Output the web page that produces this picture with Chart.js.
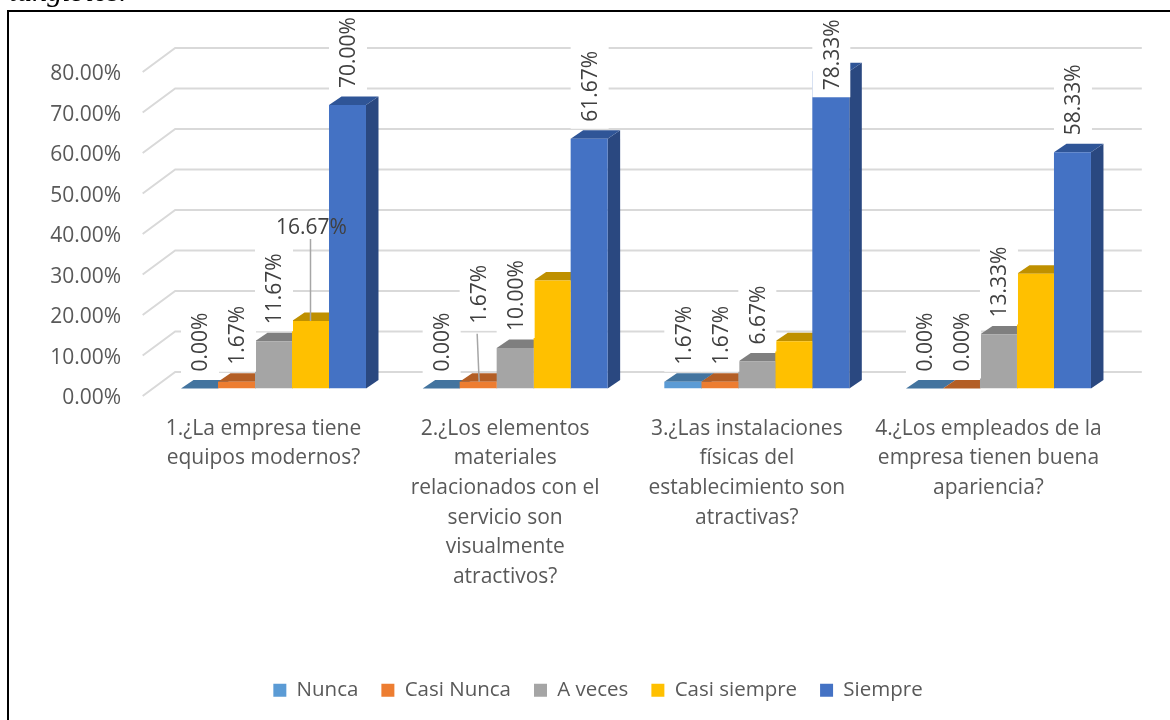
<!DOCTYPE html>
<html lang="es">
<head>
<meta charset="utf-8">
<title>Tangibles</title>
<script src="https://cdn.jsdelivr.net/npm/chart.js@4/dist/chart.umd.min.js"></script>
<style>
    html, body { margin: 0; padding: 0; background: #fff; overflow: hidden; }
    #page { position: relative; width: 1170px; height: 720px; overflow: hidden; }
    #frame { position: absolute; left: 7px; top: 10px; width: 1170px; height: 720px; border-left: 2px solid #000; border-top: 2px solid #000; }
    #caption { position: absolute; left: 9px; top: -26px; font: italic 30px "Liberation Serif", serif; color: #000; white-space: nowrap; }
    canvas { position: absolute; left: 0; top: 0; }
</style>
</head>
<body>
<div id="page">
    <canvas id="tangiblesChart" width="1170" height="720"></canvas>
    <div id="frame"></div>
    <div id="caption">tangibles.</div>
</div>
<script>
    var categories = [
        ["1.¿La empresa tiene", "equipos modernos?"],
        ["2.¿Los elementos", "materiales", "relacionados con el", "servicio son", "visualmente", "atractivos?"],
        ["3.¿Las instalaciones", "físicas del", "establecimiento son", "atractivas?"],
        ["4.¿Los empleados de la", "empresa tienen buena", "apariencia?"]
    ];
    var yTickLabels = ["0.00%", "10.00%", "20.00%", "30.00%", "40.00%", "50.00%", "60.00%", "70.00%", "80.00%"];

    var nunca = [0, 0, 1.67, 0];
    var casiNunca = [1.67, 1.67, 1.67, 0];
    var aVeces = [11.67, 10, 6.67, 13.33];
    var casiSiempre = [16.67, 26.67, 11.67, 28.33];
    var siempre = [70, 61.67, 78.33, 58.33];

    var seriesNames = ["Nunca", "Casi Nunca", "A veces", "Casi siempre", "Siempre"];
    var seriesValues = [nunca, casiNunca, aVeces, casiSiempre, siempre];
    var frontColors = ["#5B9BD5", "#ED7D31", "#A5A5A5", "#FFC000", "#4472C4"];
    var topColors = ["#43749F", "#B35E25", "#7F7F7F", "#BF9000", "#2F5597"];
    var sideColors = ["#3E6B93", "#A85820", "#767676", "#B08500", "#2A4880"];

    var TEXT_AXIS = "#595959";
    var TEXT_LABEL = "#404040";
    var GRID = "#D9D9D9";
    var LABEL_FONT = '21px "Open Sans"';

    // depth of the bars and of the back wall, px
    var BAR_DX = 12.5, BAR_DY = 8.5;
    var WALL_DX = 22.5, WALL_DY = 16.5;
    var WALL_LEFT_DX = -10, WALL_LEFT_DY = 7.5;

    // labels that Excel had moved by hand: "series:category"
    var hiddenLabels = ["3:1", "3:2", "3:3"];
    var labelShift = { "4:2": 36, "1:1": -41 };

    // the 3d walls and the bar sides go under the library's bar fronts
    var depthPlugin = {
        id: "depth",
        beforeDatasetsDraw: function (chart) {
            var ctx = chart.ctx;
            var yScale = chart.scales.y;
            var area = chart.chartArea;
            ctx.save();
            ctx.strokeStyle = GRID;
            ctx.lineWidth = 2;
            yScale.ticks.forEach(function (tick) {
                var y = yScale.getPixelForValue(tick.value);
                ctx.beginPath();
                ctx.moveTo(area.left + WALL_LEFT_DX, y + WALL_LEFT_DY);
                ctx.lineTo(area.left + WALL_DX, y - WALL_DY);
                ctx.lineTo(area.right + WALL_DX, y - WALL_DY);
                ctx.stroke();
            });
            chart.data.datasets.forEach(function (ds, s) {
                chart.getDatasetMeta(s).data.forEach(function (bar) {
                    var half = bar.width / 2;
                    var l = bar.x - half, r = bar.x + half;
                    ctx.fillStyle = sideColors[s];
                    ctx.beginPath();
                    ctx.moveTo(r, bar.base);
                    ctx.lineTo(r + BAR_DX, bar.base - BAR_DY);
                    ctx.lineTo(r + BAR_DX, bar.y - BAR_DY);
                    ctx.lineTo(r, bar.y);
                    ctx.closePath();
                    ctx.fill();
                    ctx.fillStyle = topColors[s];
                    ctx.beginPath();
                    ctx.moveTo(l, bar.y);
                    ctx.lineTo(l + BAR_DX, bar.y - BAR_DY);
                    ctx.lineTo(r + BAR_DX, bar.y - BAR_DY);
                    ctx.lineTo(r, bar.y);
                    ctx.closePath();
                    ctx.fill();
                });
            });
            ctx.restore();
        },
        afterLayout: function (chart) {
            // legend is centred on the whole frame, not on the plot
            var legend = chart.legend;
            legend.left = 76;
            legend.right = 1120;
            legend.top = 657;
        }
    };

    //data labels
    var labelPlugin = {
        id: "barLabels",
        afterDatasetsDraw: function (chart) {
            var ctx = chart.ctx;
            ctx.save();
            ctx.font = LABEL_FONT;
            chart.data.datasets.forEach(function (ds, s) {
                chart.getDatasetMeta(s).data.forEach(function (bar, c) {
                    var key = s + ":" + c;
                    if (hiddenLabels.indexOf(key) >= 0) return;
                    var text = ds.data[c].toFixed(2) + "%";

                    // 16.67% lies flat with a leader down to its bar
                    if (key === "3:0") {
                        ctx.strokeStyle = "#A6A6A6";
                        ctx.lineWidth = 1.5;
                        ctx.beginPath();
                        ctx.moveTo(bar.x, bar.y - 82);
                        ctx.lineTo(bar.x, bar.y);
                        ctx.stroke();
                        ctx.fillStyle = TEXT_LABEL;
                        ctx.textAlign = "center";
                        ctx.textBaseline = "middle";
                        ctx.fillText(text, bar.x + 1, bar.y - 93);
                        return;
                    }

                    var shift = labelShift[key] || 0;
                    var bottom = bar.y - 17 + shift;
                    var len = ctx.measureText(text).width;
                    ctx.fillStyle = "#fff";
                    ctx.fillRect(bar.x - 18.5, bottom - len - 7, 38, len + 14);

                    if (key === "1:1") {
                        ctx.strokeStyle = "#A6A6A6";
                        ctx.lineWidth = 1.5;
                        ctx.beginPath();
                        ctx.moveTo(bar.x - 1, bottom + 10);
                        ctx.lineTo(bar.x + 1, bar.y);
                        ctx.stroke();
                    }

                    ctx.save();
                    ctx.translate(bar.x + 2, bottom);
                    ctx.rotate(-Math.PI / 2);
                    ctx.fillStyle = TEXT_LABEL;
                    ctx.textAlign = "left";
                    ctx.textBaseline = "middle";
                    ctx.fillText(text, 0, 0);
                    ctx.restore();
                });
            });
            ctx.restore();
        }
    };

    var datasets = seriesNames.map(function (name, i) {
        return {
            label: name,
            data: seriesValues[i],
            backgroundColor: frontColors[i],
            borderWidth: 0,
            categoryPercentage: 0.7655,
            barPercentage: 1
        };
    });

    var ctxBar = document.getElementById("tangiblesChart");
    var tangiblesChart = new Chart(ctxBar, {
        type: "bar",
        data: { labels: categories, datasets: datasets },
        plugins: [depthPlugin, labelPlugin],
        options: {
            responsive: false,
            animation: false,
            layout: { padding: { top: 64.5, right: 50.7, left: 0, bottom: 0 } },
            plugins: {
                tooltip: { enabled: false },
                legend: {
                    position: "bottom",
                    labels: {
                        boxWidth: 13,
                        boxHeight: 13,
                        padding: 23,
                        color: TEXT_AXIS,
                        font: { family: "Open Sans", size: 20.5 }
                    }
                }
            },
            scales: {
                x: {
                    grid: { display: false, drawTicks: false },
                    border: { display: false },
                    afterFit: function (axis) {
                        axis.height = 720 - 388.5 - axis.chart.legend.height;
                    },
                    ticks: {
                        color: TEXT_AXIS,
                        font: { family: "Open Sans", size: 21, lineHeight: 1.41 },
                        padding: 25.5,
                        labelOffset: -10,
                        maxRotation: 0,
                        minRotation: 0,
                        autoSkip: false
                    }
                },
                y: {
                    min: 0,
                    max: 80,
                    grid: { display: false, drawTicks: false },
                    border: { display: false },
                    afterFit: function (axis) {
                        axis.width = 152.67;
                    },
                    ticks: {
                        stepSize: 10,
                        color: TEXT_AXIS,
                        font: { family: "Open Sans", size: 21 },
                        padding: 31.5,
                        labelOffset: 10,
                        callback: function (value, index) {
                            return yTickLabels[index];
                        }
                    }
                }
            }
        }
    });
</script>
</body>
</html>
